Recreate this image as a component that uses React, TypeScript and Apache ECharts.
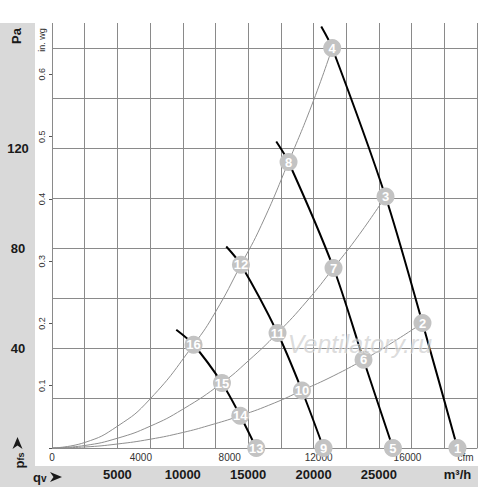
import React, { useEffect, useRef } from 'react';
import * as echarts from 'echarts';

// Tick labels
const qvLabels = [5000, 10000, 15000, 20000, 25000];
const paLabels = [40, 80, 120];
const inwgLabels = [0.1, 0.2, 0.3, 0.4, 0.5, 0.6];
const cfmLabels = [0, 4000, 8000, 12000, 16000];

// Fan curves (qv m³/h, pfs Pa), one per speed
const fanSpeed1 = [[20589, 168.6], [21429, 160], [25504, 100.6], [28333, 50], [31008, 0]];
const fanSpeed2 = [[17148, 122.6], [18088, 114.4], [21528, 72], [23822, 35.3], [26070, 0]];
const fanSpeed3 = [[13325, 80.6], [14449, 73.3], [17247, 46], [19113, 23], [20764, 0]];
const fanSpeed4 = [[9503, 47.3], [10825, 41.3], [12997, 26], [14396, 12.9], [15619, 0]];

// System curves
const systemA = [[0, 0], [2500, 2.2], [5000, 8.7], [7500, 19.6], [10825, 41.3], [12500, 54.4], [14449, 73.3], [16000, 89], [18088, 114.4], [20000, 139], [21429, 160]];
const systemB = [[0, 0], [2500, 1], [5000, 3.9], [7500, 8.7], [10000, 15.5], [12997, 26], [15000, 34.8], [17247, 46], [19500, 58.8], [21528, 72], [23500, 85.4], [25504, 100.6]];
const systemC = [[0, 0], [2500, 0.4], [5000, 1.6], [7500, 3.5], [10000, 6.2], [12000, 9], [14396, 12.9], [17000, 18], [19113, 23], [21500, 28.8], [23822, 35.3], [26000, 42.1], [28333, 50]];

// Numbered operating points
const pointLabels = ['1', '2', '3', '4', '5', '6', '7', '8', '9', '10', '11', '12', '13', '14', '15', '16'];
const pointQv = [31008, 28333, 25504, 21429, 26070, 23822, 21528, 18088, 20764, 19113, 17247, 14449, 15619, 14396, 12997, 10825];
const pointPa = [0, 50, 100.6, 160, 0, 35.3, 72, 114.4, 0, 23, 46, 73.3, 0, 12.9, 26, 41.3];

const QV_MAX = 32500;
const PA_MAX = 170;
const CFM_PER_M3H = 1 / 1.69901;
const INWG_PER_PA = 1 / 249.089;

const FONT = '"Liberation Sans", Arial, Helvetica, sans-serif';
const GRID_COLOR = '#8a8a8a';

export default function App() {
  const ref = useRef<HTMLDivElement>(null);
  useEffect(() => {
    const chart = echarts.init(ref.current!, undefined, { renderer: 'svg' });
    const near = (a: number, b: number) => Math.abs(a - b) < 1e-6;
    const option: any = {
      animation: false,
      textStyle: { fontFamily: FONT },
      grid: { left: 52, top: 23, width: 425, height: 425, containLabel: false },
      xAxis: [
        {
          type: 'value', position: 'bottom', min: 0, max: QV_MAX, interval: 2500,
          axisLine: { show: true, lineStyle: { color: GRID_COLOR, width: 1 } },
          axisTick: { show: false },
          splitLine: { show: true, lineStyle: { color: GRID_COLOR, width: 1 } },
          axisLabel: {
            margin: 20, fontSize: 13, fontWeight: 'bold', color: '#1a1a1a', fontFamily: FONT,
            formatter: (v: number) => (qvLabels.some((t) => near(t, v)) ? String(v) : ''),
          },
          name: 'm³/h', nameLocation: 'end', nameGap: -19.5,
          nameTextStyle: { fontSize: 13, fontWeight: 'bold', color: '#1a1a1a', align: 'center', verticalAlign: 'top', padding: [20, 0, 0, 0], fontFamily: FONT },
        },
        {
          type: 'value', position: 'bottom', offset: 0, min: 0, max: QV_MAX * CFM_PER_M3H, interval: 4000,
          axisLine: { show: false }, axisTick: { show: false }, splitLine: { show: false },
          axisLabel: {
            margin: 4, fontSize: 10, color: '#333', fontFamily: FONT, showMaxLabel: false,
            formatter: (v: number) => (cfmLabels.some((t) => near(t, v)) ? String(v) : ''),
          },
          name: 'cfm', nameLocation: 'end', nameGap: -11.4,
          nameTextStyle: { fontSize: 10, color: '#333', align: 'center', verticalAlign: 'top', padding: [4, 0, 0, 0], fontFamily: FONT },
        },
      ],
      yAxis: [
        {
          type: 'value', position: 'left', min: 0, max: PA_MAX, interval: 20,
          axisLine: { show: false }, axisTick: { show: false },
          splitLine: { show: true, showMaxLine: false, lineStyle: { color: GRID_COLOR, width: 1 } },
          axisLabel: {
            margin: 34, align: 'center', fontSize: 13, fontWeight: 'bold', color: '#1a1a1a', fontFamily: FONT,
            formatter: (v: number) => (paLabels.some((t) => near(t, v)) ? String(v) : ''),
          },
        },
        {
          type: 'value', position: 'left', offset: 0, min: 0, max: PA_MAX * INWG_PER_PA, interval: 0.1,
          axisLine: { show: false },
          axisTick: { show: true, length: 3, lineStyle: { color: '#555', width: 1 } },
          splitLine: { show: false },
          axisLabel: {
            margin: 10, rotate: 90, align: 'center', verticalAlign: 'middle', fontSize: 9, color: '#333', fontFamily: FONT,
            showMaxLabel: false,
            formatter: (v: number) => {
              const t = inwgLabels.find((x) => near(x, v));
              return t !== undefined ? t.toFixed(1) : '';
            },
          },
        },
      ],
      graphic: [
        { type: 'rect', z: -1, silent: true, shape: { x: 0, y: 23, width: 35, height: 464 }, style: { fill: '#d9d9d9' } },
        { type: 'rect', z: -1, silent: true, shape: { x: 0, y: 466, width: 478, height: 21 }, style: { fill: '#d9d9d9' } },
        { type: 'text', x: 16, y: 36, rotation: Math.PI / 2, style: { text: 'Pa', fontSize: 13, fontWeight: 'bold', fontFamily: FONT, fill: '#1a1a1a', align: 'center', verticalAlign: 'middle' } },
        { type: 'text', x: 42, y: 40, rotation: Math.PI / 2, style: { text: 'in. wg', fontSize: 9, fontFamily: FONT, fill: '#333', align: 'center', verticalAlign: 'middle' } },
        {
          type: 'text', x: 19, y: 460.5, rotation: Math.PI / 2,
          style: {
            text: '{a|p}{b|fs}', align: 'center', verticalAlign: 'middle', fill: '#1a1a1a',
            rich: { a: { fontSize: 13, fontWeight: 'bold', fontFamily: FONT, fill: '#1a1a1a' }, b: { fontSize: 9, fontWeight: 'bold', fontFamily: FONT, fill: '#1a1a1a', verticalAlign: 'bottom' } },
          },
        },
        { type: 'polygon', shape: { points: [[12.5, 449], [17.5, 437], [22.5, 449], [17.5, 445.5]] }, style: { fill: '#1a1a1a' } },
        {
          type: 'text', x: 33, y: 477,
          style: {
            text: '{a|q}{b|v}', align: 'left', verticalAlign: 'middle', fill: '#1a1a1a',
            rich: { a: { fontSize: 13, fontWeight: 'bold', fontFamily: FONT, fill: '#1a1a1a' }, b: { fontSize: 10, fontWeight: 'bold', fontFamily: FONT, fill: '#1a1a1a', verticalAlign: 'bottom' } },
          },
        },
        { type: 'polygon', shape: { points: [[50, 472], [62, 477], [50, 482], [53.5, 477]] }, style: { fill: '#1a1a1a' } },
        {
          type: 'text', x: 360, y: 344, z: 100, silent: true,
          style: { text: 'Ventilatory.ru', fontSize: 25, fontStyle: 'italic', fontFamily: FONT, fill: 'rgba(190,190,190,0.55)', stroke: 'rgba(255,255,255,0.6)', lineWidth: 1, align: 'center', verticalAlign: 'middle' },
        },
      ],
      series: [
        ...[systemA, systemB, systemC].map((d) => ({
          type: 'line', data: d, smooth: true, showSymbol: false, symbol: 'none', z: 2,
          lineStyle: { color: '#8f8f8f', width: 1 }, silent: true,
        })),
        ...[fanSpeed1, fanSpeed2, fanSpeed3, fanSpeed4].map((d) => ({
          type: 'line', data: d, smooth: 0.3, showSymbol: false, symbol: 'none', z: 3,
          lineStyle: { color: '#000', width: 2 }, silent: true,
        })),
        {
          type: 'scatter', z: 5, symbol: 'circle', symbolSize: 18,
          itemStyle: { color: '#c3c3c3', opacity: 1 },
          label: { show: true, position: 'inside', formatter: '{b}', color: '#fff', fontSize: 13, fontWeight: 'bold', fontFamily: FONT },
          data: pointLabels.map((n, i) => ({ name: n, value: [pointQv[i], pointPa[i]] })),
        },
      ],
    };
    chart.setOption(option);
    return () => chart.dispose();
  }, []);
  return <div ref={ref} style={{ position: 'fixed', left: 0, top: 0, width: 500, height: 489, background: '#fff' }} />;
}
